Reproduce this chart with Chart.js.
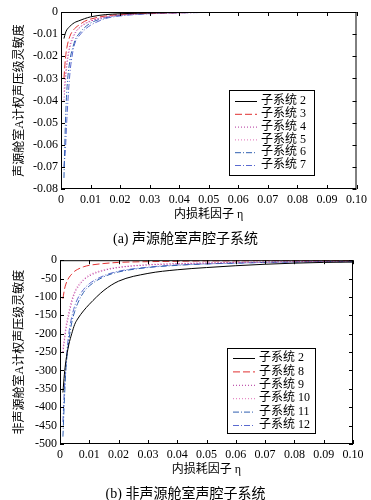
<!DOCTYPE html>
<html>
<head>
<meta charset="utf-8">
<script src="https://cdn.jsdelivr.net/npm/chart.js@4.4.0/dist/chart.umd.min.js"></script>
<style>
    body { margin: 0; background: #fff; }
    .wrap { position: relative; width: 371px; height: 500px; }
    .box { position: absolute; left: 0; width: 371px; height: 250px; }
    .cap {
        position: absolute; left: 0; width: 371px; text-align: center;
        font-family: "Liberation Serif", "Noto Sans CJK SC", serif; font-size: 14px; color: #000;
    }
</style>
</head>
<body>
<div class="wrap">
    <div class="box" style="top:0"><canvas id="chartA" width="371" height="250"></canvas></div>
    <div class="box" style="top:250px"><canvas id="chartB" width="371" height="250"></canvas></div>
    <div class="cap" style="top:227px">(a) 声源舱室声腔子系统</div>
    <div class="cap" style="top:482px">(b) 非声源舱室声腔子系统</div>
</div>
<script>
    // loss factor values (x)
    const eta = [0.001, 0.0015, 0.002, 0.003, 0.004, 0.005, 0.006, 0.008, 0.01, 0.015, 0.02, 0.03, 0.04, 0.05, 0.06, 0.07, 0.08, 0.09, 0.1]
    const xTickLabels = ['0', '0.01', '0.02', '0.03', '0.04', '0.05', '0.06', '0.07', '0.08', '0.09', '0.10']

    // (a) source cabin
    const labelsA = ['子系统 2', '子系统 3', '子系统 4', '子系统 5', '子系统 6', '子系统 7']
    const a2 = [-0.012, -0.0095, -0.008, -0.0065, -0.0053, -0.0045, -0.004, -0.003, -0.0022, -0.0012, -0.0008, -0.0004, -0.0002, -0.0001, -0.00005, 0, 0, 0, 0]
    const a3 = [-0.030, -0.021, -0.016, -0.011, -0.0085, -0.007, -0.006, -0.0042, -0.0032, -0.0018, -0.0011, -0.0005, -0.0003, -0.00015, -0.0001, 0, 0, 0, 0]
    const a4 = [-0.040, -0.031, -0.024, -0.016, -0.012, -0.0092, -0.0075, -0.0055, -0.0042, -0.0023, -0.0014, -0.0007, -0.0004, -0.0002, -0.0001, 0, 0, 0, 0]
    const a5 = [-0.036, -0.028, -0.022, -0.015, -0.011, -0.0088, -0.0072, -0.0052, -0.004, -0.0022, -0.0013, -0.0006, -0.0003, -0.0002, -0.0001, 0, 0, 0, 0]
    const a6 = [-0.075, -0.050, -0.035, -0.022, -0.016, -0.012, -0.010, -0.007, -0.005, -0.0026, -0.0015, -0.0007, -0.0003, -0.0002, -0.0001, 0, 0, 0, 0]
    const a7 = [-0.070, -0.062, -0.048, -0.028, -0.018, -0.013, -0.011, -0.008, -0.006, -0.003, -0.0018, -0.0008, -0.0004, -0.0002, -0.0001, 0, 0, 0, 0]

    // (b) non-source cabins
    const labelsB = ['子系统 2', '子系统 8', '子系统 9', '子系统 10', '子系统 11', '子系统 12']
    const b2 = [-360, -310, -275, -230, -200, -175, -160, -138, -120, -82, -57, -36, -26, -20, -15, -11, -8, -6, -5]
    const b8 = [-105, -80, -65, -48, -38, -30, -25, -18, -14, -9, -6, -4, -3, -2, -2, -1, -1, -1, -1]
    const b9 = [-250, -220, -190, -150, -115, -90, -75, -55, -43, -28, -20, -13, -10, -8, -6, -5, -4, -3, -3]
    const b10 = [-240, -210, -180, -140, -108, -85, -70, -52, -40, -26, -19, -12, -9, -7, -6, -5, -4, -3, -3]
    const b11 = [-480, -380, -300, -220, -170, -140, -118, -88, -70, -45, -32, -20, -14, -10, -8, -6, -5, -4, -4]
    const b12 = [-440, -350, -285, -200, -155, -125, -105, -80, -64, -42, -30, -19, -13, -10, -8, -6, -5, -4, -4]

    const styles = [
        { color: '#000000', dash: [] },
        { color: '#e03030', dash: [7, 3] },
        { color: '#b0309a', dash: [1, 2] },
        { color: '#e070b8', dash: [1, 2] },
        { color: '#2f5fb0', dash: [6, 2, 1, 2] },
        { color: '#5a6ad0', dash: [6, 2, 1, 2] }
    ]

    const serif = '"Liberation Serif", "Noto Sans CJK SC", serif'

    function makeSets(labels, series) {
        return series.map((s, i) => ({
            label: labels[i],
            data: s.map((v, j) => ({ x: eta[j], y: v })),
            borderColor: styles[i].color,
            borderDash: styles[i].dash,
            borderWidth: 1,
            pointRadius: 0,
            fill: false,
            cubicInterpolationMode: 'monotone'
        }))
    }

    // frame, inward ticks and the boxed legend
    const framePlugin = {
        id: 'frame',
        afterDraw(chart, args, opts) {
            const ctx = chart.ctx
            const a = chart.chartArea
            const xs = chart.scales.x
            const ys = chart.scales.y
            ctx.save()
            ctx.strokeStyle = '#000'
            ctx.lineWidth = 1
            ctx.setLineDash([])
            ctx.strokeRect(a.left + 0.5, a.top + 0.5, a.right - a.left - 1, a.bottom - a.top - 1)
            ctx.beginPath()
            xs.ticks.forEach(t => {
                const px = Math.round(xs.getPixelForValue(t.value)) + 0.5
                ctx.moveTo(px, a.bottom); ctx.lineTo(px, a.bottom - 4)
                ctx.moveTo(px, a.top); ctx.lineTo(px, a.top + 4)
            })
            ys.ticks.forEach(t => {
                const py = Math.round(ys.getPixelForValue(t.value)) + 0.5
                ctx.moveTo(a.left, py); ctx.lineTo(a.left + 4, py)
                ctx.moveTo(a.right, py); ctx.lineTo(a.right - 4, py)
            })
            ctx.stroke()

            // legend
            const L = opts.box
            ctx.fillStyle = '#fff'
            ctx.fillRect(L.x, L.y, L.w, L.h)
            ctx.strokeRect(L.x + 0.5, L.y + 0.5, L.w, L.h)
            ctx.font = '12px ' + serif
            ctx.textBaseline = 'middle'
            chart.data.datasets.forEach((d, i) => {
                const y = L.y + L.first + i * L.step
                ctx.strokeStyle = d.borderColor
                ctx.setLineDash(d.borderDash)
                ctx.beginPath()
                ctx.moveTo(L.x + 6, y + 0.5); ctx.lineTo(L.x + 28, y + 0.5)
                ctx.stroke()
                ctx.fillStyle = '#000'
                ctx.fillText(d.label, L.x + 32, y)
            })
            ctx.restore()
        }
    }

    function makeChart(id, sets, yCfg, yTitle, pad, legendBox) {
        return new Chart(document.getElementById(id), {
            type: 'line',
            data: { datasets: sets },
            plugins: [framePlugin],
            options: {
                responsive: false,
                animation: false,
                layout: { padding: pad },
                plugins: {
                    legend: { display: false },
                    tooltip: { enabled: false },
                    frame: { box: legendBox }
                },
                scales: {
                    x: {
                        type: 'linear', min: 0, max: 0.1,
                        afterBuildTicks: s => { s.ticks = xTickLabels.map((t, i) => ({ value: i / 100 })) },
                        afterFit: s => { s.height = 36 },
                        grid: { display: false, drawTicks: false },
                        border: { display: false },
                        ticks: {
                            autoSkip: false, maxRotation: 0, padding: 4,
                            color: '#000', font: { family: serif, size: 12 },
                            callback: (v, i) => xTickLabels[i]
                        },
                        title: {
                            display: true, text: '内损耗因子 η', color: '#000',
                            font: { family: serif, size: 12 }, padding: { top: 0, bottom: 3 }
                        }
                    },
                    y: {
                        type: 'linear', min: yCfg.min, max: 0,
                        afterBuildTicks: s => { s.ticks = yCfg.ticks.map(v => ({ value: v })) },
                        afterFit: s => { s.width = yCfg.width },
                        grid: { display: false, drawTicks: false },
                        border: { display: false },
                        ticks: {
                            autoSkip: false, padding: 3,
                            color: '#000', font: { family: serif, size: 12 },
                            callback: (v, i) => yCfg.labels[i]
                        },
                        title: {
                            display: true, text: yTitle, color: '#000',
                            font: { family: serif, size: 12 }, padding: { top: 13, bottom: 0 }
                        }
                    }
                }
            }
        })
    }

    const yTicksA = [0, -0.01, -0.02, -0.03, -0.04, -0.05, -0.06, -0.07, -0.08]
    const yLabelsA = ['0', '-0.01', '-0.02', '-0.03', '-0.04', '-0.05', '-0.06', '-0.07', '-0.08']
    const yTicksB = [0, -50, -100, -150, -200, -250, -300, -350, -400, -450, -500]
    const yLabelsB = ['0', '-50', '-100', '-150', '-200', '-250', '-300', '-350', '-400', '-450', '-500']

    makeChart('chartA', makeSets(labelsA, [a2, a3, a4, a5, a6, a7]),
        { min: -0.08, ticks: yTicksA, labels: yLabelsA, width: 61 },
        '声源舱室A计权声压级灵敏度',
        { top: 12, right: 14, bottom: 25, left: 0 },
        { x: 229, y: 90, w: 85, h: 85, first: 11, step: 12.8 })

    makeChart('chartB', makeSets(labelsB, [b2, b8, b9, b10, b11, b12]),
        { min: -500, ticks: yTicksB, labels: yLabelsB, width: 60 },
        '非声源舱室A计权声压级灵敏度',
        { top: 6, right: 18, bottom: 20, left: 0 },
        { x: 227, y: 98, w: 88, h: 85, first: 10, step: 13.4 })
</script>
</body>
</html>
